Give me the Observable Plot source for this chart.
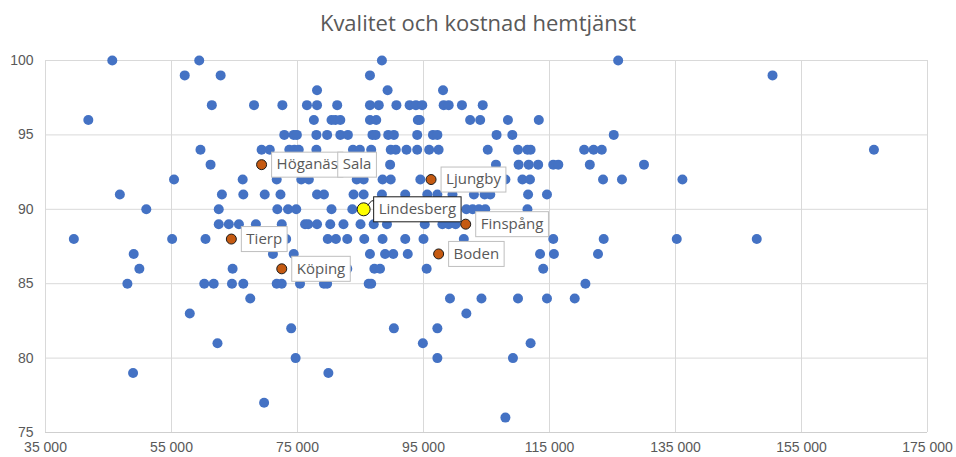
<!DOCTYPE html>
<html>
<head>
<meta charset="utf-8">
<script src="https://cdn.jsdelivr.net/npm/d3@7"></script>
<script src="https://cdn.jsdelivr.net/npm/@observablehq/plot@0.6"></script>
<style>
  html, body { margin: 0; padding: 0; background: #fff; }
  #title { height: 40px; line-height: 44px; text-align: center; font-family: "Open Sans", sans-serif; font-size: 22px; color: #595959; }
</style>
</head>
<body>
<div id="title">Kvalitet och kostnad hemtjänst</div>
<div id="chart"></div>
<script>
// Quality levels (y) and the costs (x, kr) of the municipalities at each level
const qualityRows = [100, 99, 98, 97, 96, 95, 94, 93, 92, 91, 90, 89, 88, 87, 86, 85, 84, 83, 82, 81, 80, 79, 77, 76];
const costsByRow = [
  [45600, 59400, 88400, 125900],
  [57100, 62800, 86500, 150400],
  [78100, 89300, 98100],
  [61400, 68100, 72600, 76500, 78100, 81300, 86500, 87900, 90700, 92800, 93800, 94800, 98200, 99000, 101100, 104400],
  [41800, 77600, 80400, 81000, 81800, 86500, 87500, 94100, 94400, 102400, 104000, 108400, 113300],
  [72900, 74400, 74900, 78000, 79700, 81800, 83000, 86900, 87400, 89400, 90300, 94000, 96500, 97200, 106600, 109100, 125200],
  [59600, 69300, 70600, 73700, 74500, 75200, 78000, 83800, 84900, 86700, 89800, 90600, 92300, 94000, 95900, 97400, 105200, 110000, 111500, 112000, 120500, 122000, 123300, 166500],
  [61200, 89700, 106500, 110100, 111700, 113200, 115600, 116400, 121400, 130000],
  [55400, 66300, 71700, 75600, 76800, 84400, 85500, 88500, 89800, 94500, 108000, 110700, 111900, 123500, 126500, 136100],
  [46800, 63000, 66400, 69800, 72300, 78100, 79200, 83900, 85500, 88400, 92100, 95600, 97200, 99600, 103000, 104700, 105600, 111600, 114600],
  [51000, 62500, 71800, 73500, 74800, 80400, 83700, 101800, 102800, 103800, 104800, 111500],
  [62500, 64100, 65700, 68400, 72500, 76200, 76700, 78100, 80200, 82300, 85000, 87100, 89200, 95200, 98000, 99000, 100100],
  [39500, 55100, 60400, 73200, 79800, 81100, 82900, 85600, 88500, 92100, 95000, 101400, 115600, 123600, 135200, 147900],
  [49000, 71100, 74400, 86500, 88900, 90200, 92500, 113500, 115700, 122700],
  [49900, 64700, 82900, 87200, 88100, 95500, 114000],
  [48000, 60200, 61700, 64600, 66400, 71700, 72500, 75400, 79200, 79700, 86300, 86700, 120700],
  [67500, 99200, 104200, 110000, 114600, 119000],
  [57900, 101800],
  [74000, 90300, 97200],
  [62300, 94900, 112000],
  [74700, 97200, 109200],
  [48900, 79900],
  [69700],
  [108000]
];

// Highlighted municipalities
const labelNames   = ["Höganäs", "Sala", "Ljungby", "Lindesberg", "Finspång", "Tierp", "Boden", "Köping"];
const labelCost    = [69300, 79800, 96200, 85500, 101700, 64500, 97400, 72500];
const labelQuality = [93, 93, 92, 90, 89, 88, 87, 86];
const focusName = "Lindesberg";

// Axis ticks
const xTicks = [35000, 55000, 75000, 95000, 115000, 135000, 155000, 175000];
const yTicks = [75, 80, 85, 90, 95, 100];

const blue = qualityRows.flatMap((q, r) => costsByRow[r].map(c => ({cost: c, quality: q})));
const highlighted = labelNames.map((n, i) => ({name: n, cost: labelCost[i], quality: labelQuality[i]}));
const others = highlighted.filter(d => d.name !== focusName);
const focus = highlighted.filter(d => d.name === focusName);

const FS = 15, DX = 15, PAD = 5;
function boxedLabels(index, scales, values, dims, ctx, next) {
  const g = next(index, scales, values, dims, ctx);
  const meas = document.createElement("canvas").getContext("2d");
  meas.font = `${FS}px "Open Sans"`;
  const ns = "http://www.w3.org/2000/svg";
  const first = g.firstChild;
  for (const i of index) {
    const d = highlighted[i];
    const x = values.x[i], y = values.y[i];
    const w = meas.measureText(d.name).width;
    const rect = document.createElementNS(ns, "rect");
    rect.setAttribute("x", x - PAD);
    rect.setAttribute("y", y - 12.5);
    rect.setAttribute("width", w + 2 * PAD);
    rect.setAttribute("height", 25);
    rect.setAttribute("fill", "#fff");
    const isFocus = d.name === focusName;
    rect.setAttribute("stroke", isFocus ? "#1a1a1a" : "#bfbfbf");
    rect.setAttribute("stroke-width", 1);
    g.insertBefore(rect, first);
    if (isFocus) {
      const line = document.createElementNS(ns, "path");
      const px = x - DX, py = y;
      line.setAttribute("d", `M${px + 4},${py - 4}L${px + 8},${py - 8.5}L${x - PAD},${py - 8.5}`);
      line.setAttribute("stroke", "#1a1a1a");
      line.setAttribute("fill", "none");
      g.insertBefore(line, first);
    }
  }
  return g;
}

const fmt = d => d3.format(",")(d).replace(/,/g, " ");

const chart = Plot.plot({
  width: 956,
  height: 417,
  marginLeft: 45,
  marginRight: 29,
  marginTop: 20,
  marginBottom: 25,
  style: {fontFamily: "Liberation Sans, Arial, sans-serif", fontSize: "14px", color: "#595959", background: "#fff"},
  x: {domain: [35000, 175000], label: null},
  y: {domain: [75, 100], label: null},
  marks: [
    Plot.gridX(xTicks, {stroke: "#d9d9d9", strokeOpacity: 1, strokeWidth: 1}),
    Plot.gridY(yTicks, {stroke: "#d9d9d9", strokeOpacity: 1, strokeWidth: 1}),
    Plot.ruleY([75], {stroke: "#cfcfcf", strokeWidth: 1}),
    Plot.axisX({ticks: xTicks, tickFormat: fmt, tickSize: 0, tickPadding: 10, fill: "#595959", fontSize: 14}),
    Plot.axisY({ticks: yTicks, tickSize: 0, tickPadding: 12, fill: "#595959", fontSize: 14}),
    Plot.dot(blue, {x: "cost", y: "quality", r: 5, fill: "#4472c4", stroke: "none"}),
    Plot.dot(others, {x: "cost", y: "quality", r: 5, fill: "#c55a11", stroke: "#1a1a1a", strokeWidth: 1}),
    Plot.dot(focus, {x: "cost", y: "quality", r: 6.5, fill: "#ffff00", stroke: "#1a1a1a", strokeWidth: 1}),
    Plot.text(highlighted, {x: "cost", y: "quality", text: "name", dx: DX, textAnchor: "start", fontSize: FS, fill: "#595959", fontFamily: "Open Sans", render: boxedLabels})
  ]
});
document.getElementById("chart").appendChild(chart);
</script>
</body>
</html>
